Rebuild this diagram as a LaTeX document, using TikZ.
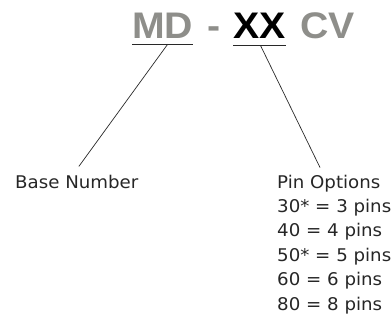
\documentclass[tikz,border=0pt]{standalone}
\usepackage{fontspec}
\setmainfont{DejaVu Sans}[FakeStretch=1.04]
\newfontfamily\titlefont{Liberation Sans}[FakeStretch=1.06]
\usetikzlibrary{positioning}
\definecolor{titlegray}{RGB}{142,142,138}
\definecolor{linegray}{RGB}{40,40,40}
\begin{document}
\begin{tikzpicture}[
x=1pt,
y=-1pt,
part/.style={
  inner sep=0pt,
  anchor=base west,
  font=\titlefont\bfseries\fontsize{37}{37}\selectfont,
  text=titlegray
  },
label/.style={
  inner sep=0pt,
  anchor=base west,
  align=left,
  font=\fontsize{17.5}{24.4}\selectfont,
  text=black!85
  },
rule/.style={
  draw=linegray,
  line width=0.9pt
  },
link/.style={
  draw=linegray,
  line width=0.7pt
  }
]
\useasboundingbox (0,0) rectangle (391,321);
\node[part] (md) at (132,39) {MD};
\node[part] (dash) at (207,39) {-};
\node[part,text=black] (xx) at (233,39) {XX};
\node[part] (cv) at (300,39) {CV};
\draw[rule] ([yshift=-5pt]md.south west) -- ([yshift=-5pt]md.south east);
\draw[rule] ([yshift=-6pt]xx.south west) -- ([yshift=-6pt]xx.south east);
\node[label] (base) at (15,188) {Base Number};
\node[label] (pins) at (277,310) {Pin Options\\30* = 3 pins\\40 = 4 pins\\50* = 5 pins\\60 = 6 pins\\80 = 8 pins};
\draw[link] ([xshift=5pt,yshift=-5pt]md.south) -- ([xshift=2pt,yshift=8pt]base.north);
\draw[link] ([xshift=1pt,yshift=-6pt]xx.south) -- ([xshift=43pt,yshift=7pt]pins.north west);
\end{tikzpicture}
\end{document}
